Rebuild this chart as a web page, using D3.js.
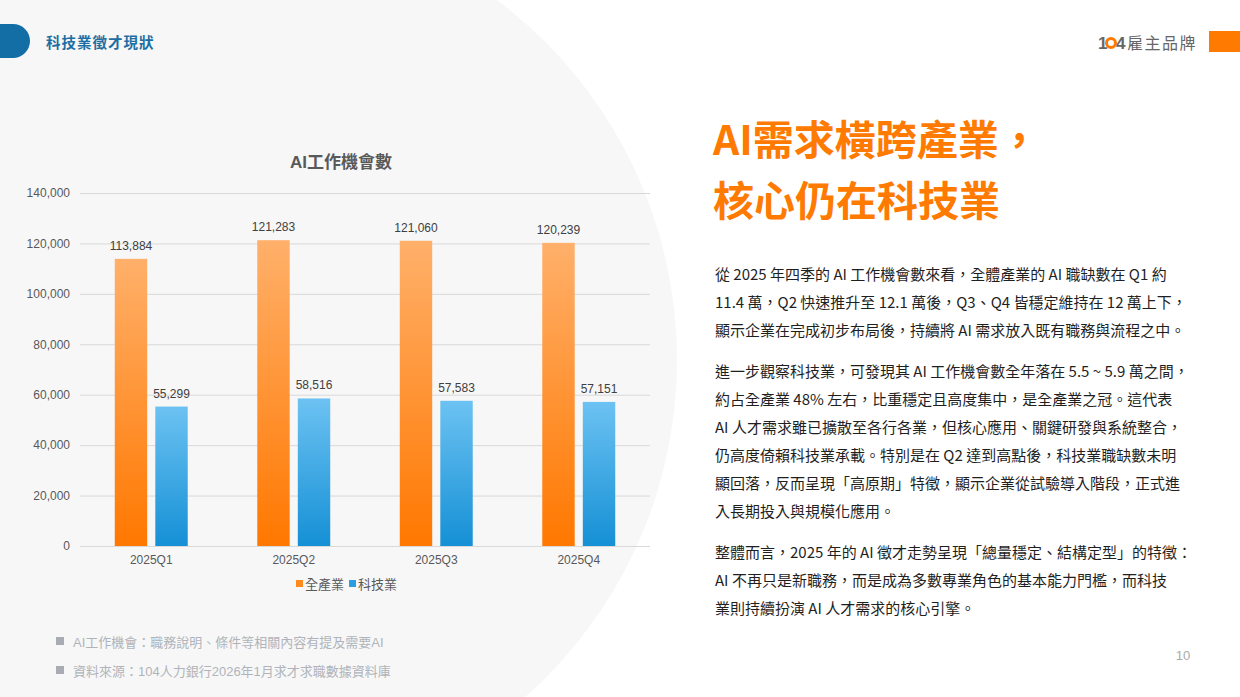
<!DOCTYPE html>
<html>
<head>
<meta charset="utf-8">
<script src="https://cdn.jsdelivr.net/npm/d3@7"></script>
<style>
  html, body { margin: 0; padding: 0; background: #fff; }
  svg { display: block; }
</style>
</head>
<body>
<svg id="slide" width="1240" height="697"></svg>
<script>
const quarters = ["2025Q1", "2025Q2", "2025Q3", "2025Q4"];
const seriesNames = ["全產業", "科技業"];
const allIndustry = [113884, 121283, 121060, 120239];
const techIndustry = [55299, 58516, 57583, 57151];
const yTicks = [0, 20000, 40000, 60000, 80000, 100000, 120000, 140000];

const headline = ["AI需求橫跨產業，", "核心仍在科技業"];
const paragraphs = [
  [
    "從 2025 年四季的 AI 工作機會數來看，全體產業的 AI 職缺數在 Q1 約",
    "11.4 萬，Q2 快速推升至 12.1 萬後，Q3、Q4 皆穩定維持在 12 萬上下，",
    "顯示企業在完成初步布局後，持續將 AI 需求放入既有職務與流程之中。"
  ],
  [
    "進一步觀察科技業，可發現其 AI 工作機會數全年落在 5.5 ~ 5.9 萬之間，",
    "約占全產業 48% 左右，比重穩定且高度集中，是全產業之冠。這代表",
    "AI 人才需求雖已擴散至各行各業，但核心應用、關鍵研發與系統整合，",
    "仍高度倚賴科技業承載。特別是在 Q2 達到高點後，科技業職缺數未明",
    "顯回落，反而呈現「高原期」特徵，顯示企業從試驗導入階段，正式進",
    "入長期投入與規模化應用。"
  ],
  [
    "整體而言，2025 年的 AI 徵才走勢呈現「總量穩定、結構定型」的特徵：",
    "AI 不再只是新職務，而是成為多數專業角色的基本能力門檻，而科技",
    "業則持續扮演 AI 人才需求的核心引擎。"
  ]
];
const footnotes = [
  "AI工作機會：職務說明、條件等相關內容有提及需要AI",
  "資料來源：104人力銀行2026年1月求才求職數據資料庫"
];

const svg = d3.select("#slide");
const cjk = "'Noto Sans CJK TC', 'Noto Sans', sans-serif";
const chartFont = "'Liberation Sans', Arial, 'Noto Sans CJK TC', sans-serif";

// background blob
svg.append("circle")
  .attr("cx", 227).attr("cy", 360).attr("r", 450)
  .attr("fill", "#f7f7f7");

// header tag
svg.append("rect")
  .attr("x", -40).attr("y", 24).attr("width", 70).attr("height", 34)
  .attr("rx", 17).attr("fill", "#136ea5");
svg.append("text")
  .attr("x", 46).attr("y", 48)
  .attr("font-family", cjk).attr("font-size", 14.5).attr("font-weight", 700)
  .attr("fill", "#1d6fa3").attr("letter-spacing", 1)
  .text("科技業徵才現狀");

// logo
const logo = svg.append("g").attr("transform", "translate(1098,43)");
logo.append("text").attr("x", 0).attr("y", 6)
  .attr("font-family", chartFont).attr("font-size", 17).attr("font-weight", 700)
  .attr("fill", "#666").text("1");
logo.append("circle").attr("cx", 13).attr("cy", 0).attr("r", 4.5)
  .attr("fill", "none").attr("stroke", "#ff7a00").attr("stroke-width", 3);
logo.append("text").attr("x", 18).attr("y", 6)
  .attr("font-family", chartFont).attr("font-size", 17).attr("font-weight", 700)
  .attr("fill", "#666").text("4");
logo.append("text").attr("x", 29).attr("y", 6)
  .attr("font-family", cjk).attr("font-size", 16)
  .attr("fill", "#666").attr("letter-spacing", 1.5).text("雇主品牌");
svg.append("rect")
  .attr("x", 1209).attr("y", 31).attr("width", 31).attr("height", 21)
  .attr("fill", "#ff7a00");

// chart
const plot = { left: 80, right: 650, top: 193, bottom: 546 };

const y = d3.scaleLinear()
  .domain([0, 140000])
  .range([plot.bottom, plot.top]);

const x0 = d3.scaleBand()
  .domain(quarters)
  .range([plot.left, plot.right])
  .paddingInner(0.488)
  .paddingOuter(0.244);

const x1 = d3.scaleBand()
  .domain(seriesNames)
  .range([0, x0.bandwidth()])
  .paddingInner(0.2);

const defs = svg.append("defs");
const gradients = [
  { id: "gradAll", top: "#ffb06a", bottom: "#ff7800" },
  { id: "gradTech", top: "#6cc2f2", bottom: "#1590d5" }
];
gradients.forEach(g => {
  const lg = defs.append("linearGradient")
    .attr("id", g.id).attr("x1", 0).attr("y1", 0).attr("x2", 0).attr("y2", 1);
  lg.append("stop").attr("offset", "0%").attr("stop-color", g.top);
  lg.append("stop").attr("offset", "100%").attr("stop-color", g.bottom);
});

svg.append("text")
  .attr("x", 341).attr("y", 168)
  .attr("text-anchor", "middle")
  .attr("font-family", chartFont).attr("font-size", 17).attr("font-weight", 700)
  .attr("fill", "#595959")
  .text("AI工作機會數");

const yAxis = svg.append("g")
  .attr("transform", `translate(${plot.left},0)`)
  .call(d3.axisLeft(y)
    .tickValues(yTicks)
    .tickFormat(d3.format(","))
    .tickSize(-(plot.right - plot.left))
    .tickPadding(10));
yAxis.select(".domain").remove();
yAxis.selectAll(".tick line").attr("stroke", "#d9d9d9").attr("stroke-width", 1);
yAxis.selectAll(".tick text")
  .attr("font-family", chartFont).attr("font-size", 12).attr("fill", "#595959");

const xAxis = svg.append("g")
  .attr("transform", `translate(0,${plot.bottom})`)
  .call(d3.axisBottom(x0).tickSize(0).tickPadding(9));
xAxis.select(".domain").remove();
xAxis.selectAll(".tick text")
  .attr("font-family", chartFont).attr("font-size", 12).attr("fill", "#595959");

const rows = quarters.map((q, i) => ({
  quarter: q,
  values: [
    { name: seriesNames[0], value: allIndustry[i], fill: "url(#gradAll)" },
    { name: seriesNames[1], value: techIndustry[i], fill: "url(#gradTech)" }
  ]
}));

const groups = svg.append("g").selectAll("g")
  .data(rows)
  .join("g")
  .attr("transform", d => `translate(${x0(d.quarter)},0)`);

groups.selectAll("rect")
  .data(d => d.values)
  .join("rect")
  .attr("x", d => x1(d.name))
  .attr("width", x1.bandwidth())
  .attr("y", d => y(d.value))
  .attr("height", d => y(0) - y(d.value))
  .attr("fill", d => d.fill);

groups.selectAll("text")
  .data(d => d.values)
  .join("text")
  .attr("x", d => x1(d.name) + x1.bandwidth() / 2)
  .attr("y", d => y(d.value) - 9)
  .attr("text-anchor", "middle")
  .attr("font-family", chartFont).attr("font-size", 12).attr("fill", "#404040")
  .text(d => d3.format(",")(d.value));

// legend
const legendColors = ["#ff8a1e", "#2a9ee0"];
const legend = svg.append("g").attr("transform", "translate(296,584)");
const legendItems = legend.selectAll("g")
  .data(seriesNames)
  .join("g")
  .attr("transform", (d, i) => `translate(${i * 53},0)`);
legendItems.append("rect")
  .attr("x", 0).attr("y", -4).attr("width", 7).attr("height", 7)
  .attr("fill", (d, i) => legendColors[i]);
legendItems.append("text")
  .attr("x", 9).attr("y", 5)
  .attr("font-family", chartFont).attr("font-size", 13).attr("fill", "#595959")
  .text(d => d);

// footnotes
const notes = svg.append("g");
footnotes.forEach((t, i) => {
  const yy = 642 + i * 29;
  notes.append("rect")
    .attr("x", 56).attr("y", yy - 5).attr("width", 8).attr("height", 8)
    .attr("fill", "#a9adb3");
  notes.append("text")
    .attr("x", 73).attr("y", yy + 4.5)
    .attr("font-family", chartFont).attr("font-size", 13).attr("fill", "#b0b4ba")
    .text(t);
});

// headline
headline.forEach((t, i) => {
  svg.append("text")
    .attr("x", 713).attr("y", 155 + i * 61)
    .attr("font-family", cjk).attr("font-size", 41).attr("font-weight", 700)
    .attr("fill", "#ff7a00")
    .text(t);
});

// body text
let lineY = 280;
paragraphs.forEach(par => {
  par.forEach(line => {
    svg.append("text")
      .attr("x", 715).attr("y", lineY)
      .attr("font-family", cjk).attr("font-size", 15).attr("fill", "#1f1f1f")
      .text(line);
    lineY += 28;
  });
  lineY += 13;
});

svg.append("text")
  .attr("x", 1183).attr("y", 660)
  .attr("text-anchor", "middle")
  .attr("font-family", chartFont).attr("font-size", 13).attr("fill", "#aaaaaa")
  .text("10");
</script>
</body>
</html>
